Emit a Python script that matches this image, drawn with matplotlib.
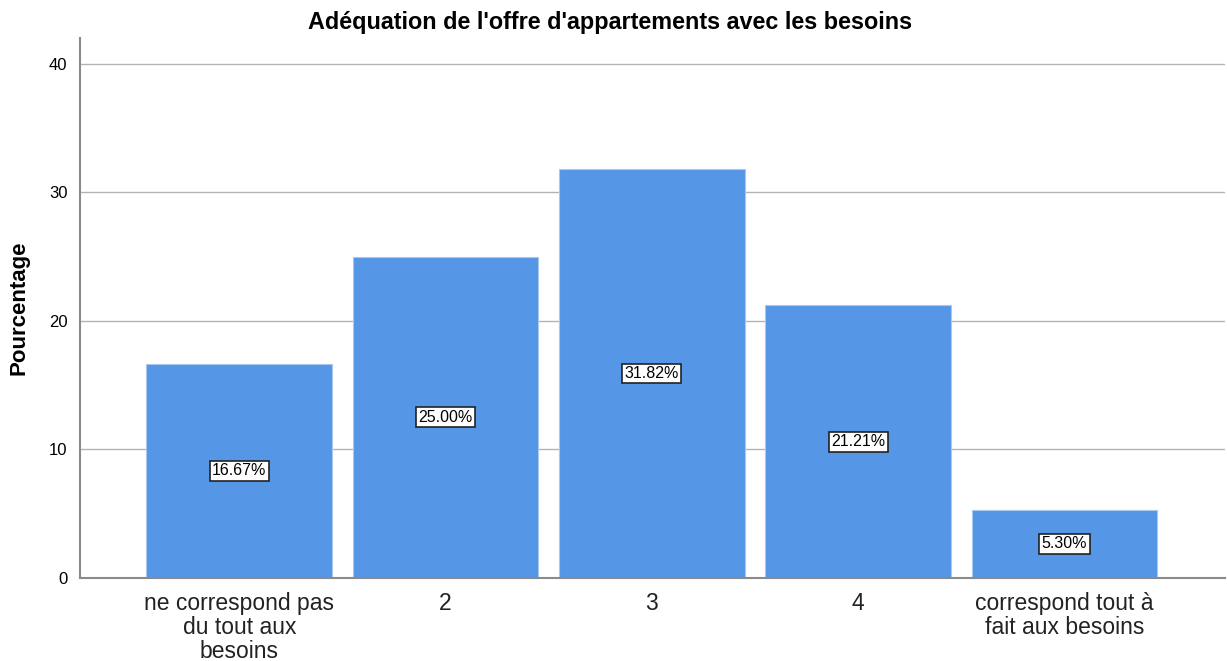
import matplotlib
matplotlib.use('Agg')
import numpy as np
import matplotlib.pyplot as plt

plt.rcParams['font.family'] = ['Liberation Sans', 'DejaVu Sans']

categories = ['ne correspond pas\ndu tout aux\nbesoins', '2', '3', '4',
              'correspond tout à\nfait aux besoins']
pourcentages = [16.67, 25.00, 31.82, 21.21, 5.30]

fig = plt.figure(figsize=(12.27, 6.61), dpi=100)
ax = fig.add_axes([0.0652, 0.1256, 0.933, 0.817])

x = np.arange(1, len(categories) + 1)
ax.bar(x, pourcentages, width=0.9, color='#5596e6', edgecolor='#a9c8f0',
       linewidth=0.8, zorder=2)

# étiquettes au milieu des barres
for xi, v in zip(x, pourcentages):
    ax.text(xi, v / 2, f'{v:.2f}%', ha='center', va='center', fontsize=11.5,
            zorder=3,
            bbox=dict(boxstyle='square,pad=0.15', facecolor='white',
                      edgecolor='#222222', linewidth=1.2))

ax.set_xlim(0.228, 5.777)
ax.set_ylim(0, 42)
ax.set_yticks([0, 10, 20, 30, 40])
ax.set_xticks(x)
ax.set_xticklabels(categories, fontsize=16.5, color='#222222', linespacing=1.05)
ax.tick_params(axis='x', length=0, pad=10)
ax.tick_params(axis='y', length=0, labelsize=12, pad=9)
ax.yaxis.grid(True, color='#b4b4b4', linewidth=1.0, zorder=0)
ax.set_axisbelow(True)

for s in ['top', 'right']:
    ax.spines[s].set_visible(False)
for s in ['left', 'bottom']:
    ax.spines[s].set_color('#8a8a8a')
    ax.spines[s].set_linewidth(1.5)

ax.set_ylabel('Pourcentage', fontsize=16, fontweight='bold', labelpad=14)
fig.text(0.497, 0.966, "Adéquation de l'offre d'appartements avec les besoins",
         ha='center', va='center', fontsize=16.8, fontweight='bold')

fig.savefig('out.png', dpi=100)
